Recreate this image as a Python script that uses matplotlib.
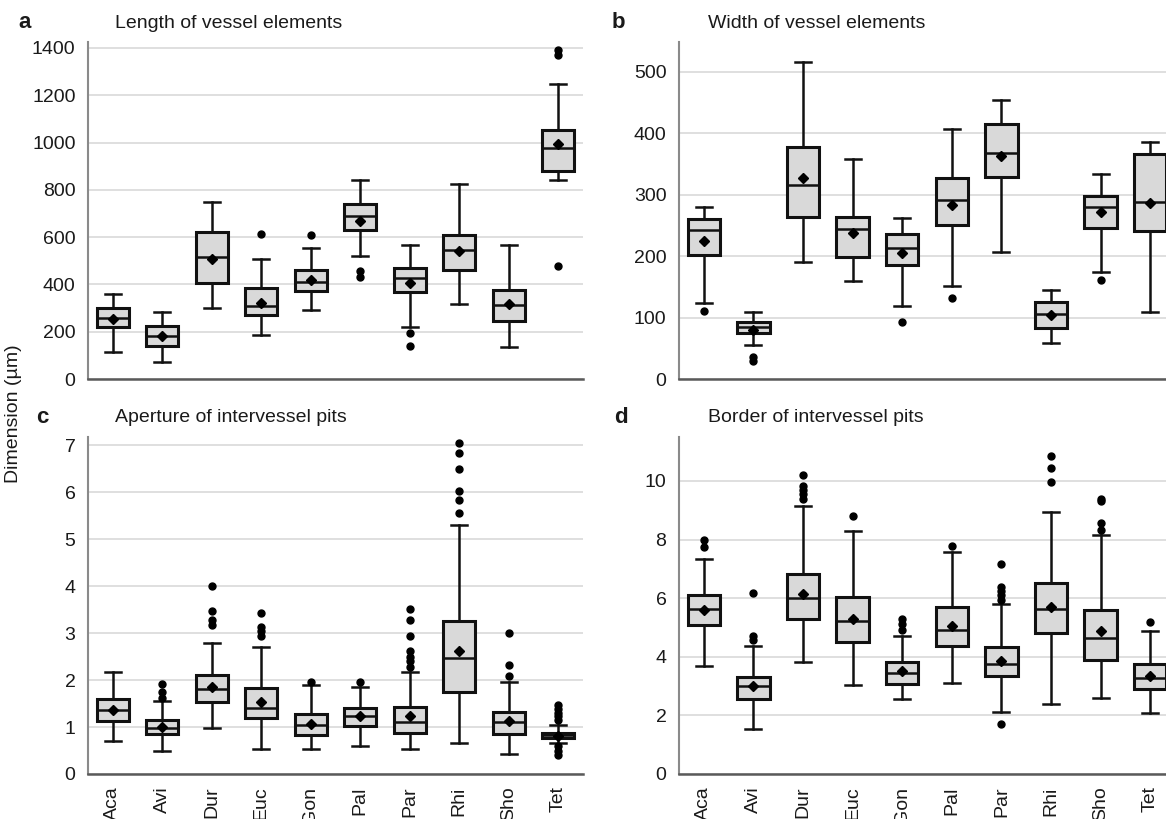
import matplotlib
matplotlib.use("Agg")
import matplotlib.pyplot as plt

plt.rcParams['font.family'] = ['Liberation Sans', 'DejaVu Sans']

labels = ['Aca', 'Avi', 'Dur', 'Euc', 'Gon', 'Pal', 'Par', 'Rhi', 'Sho', 'Tet']

# Panel a: Length of vessel elements
a_lo = [116, 71, 299, 184, 292, 522, 220, 318, 136, 840]
a_q1 = [219, 138, 405, 271, 374, 631, 366, 462, 245, 880]
a_med = [257, 183, 517, 310, 409, 691, 427, 547, 315, 977]
a_q3 = [299, 222, 623, 384, 461, 738, 468, 609, 378, 1051]
a_hi = [360, 283, 747, 509, 552, 842, 568, 826, 568, 1248]
a_mean = [252, 180, 508, 323, 419, 669, 405, 541, 318, 995]
a_fliers = [[], [], [], [613], [607], [456, 432], [193, 140], [], [], [1390, 1371, 478]]

# Panel b: Width of vessel elements
b_lo = [123, 56, 191, 160, 119, 152, 206, 58, 174, 109]
b_q1 = [201, 75, 264, 198, 186, 251, 329, 83, 246, 240]
b_med = [243, 84, 315, 244, 213, 291, 368, 105, 280, 288]
b_q3 = [260, 92, 377, 263, 236, 327, 415, 126, 298, 366]
b_hi = [280, 109, 516, 358, 262, 406, 453, 145, 333, 386]
b_mean = [225, 80, 327, 237, 205, 283, 363, 104, 271, 286]
b_fliers = [[110], [35, 30], [], [], [92], [132], [], [], [161], []]

# Panel c: Aperture of intervessel pits
c_lo = [0.71, 0.48, 0.98, 0.54, 0.53, 0.59, 0.53, 0.66, 0.43, 0.66]
c_q1 = [1.12, 0.86, 1.54, 1.19, 0.84, 1.03, 0.87, 1.74, 0.86, 0.76]
c_med = [1.37, 0.99, 1.82, 1.40, 1.05, 1.23, 1.11, 2.48, 1.10, 0.83]
c_q3 = [1.60, 1.14, 2.11, 1.84, 1.28, 1.40, 1.42, 3.26, 1.33, 0.88]
c_hi = [2.17, 1.56, 2.79, 2.70, 1.89, 1.85, 2.18, 5.30, 1.95, 1.05]
c_mean = [1.37, 1.01, 1.86, 1.53, 1.07, 1.24, 1.24, 2.61, 1.12, 0.82]
c_fliers = [[], [1.92, 1.75, 1.62], [4.0, 3.48, 3.29, 3.18], [3.43, 3.14, 3.04, 2.93],
            [1.97], [1.95], [3.51, 3.29, 2.93, 2.61, 2.50, 2.40, 2.29],
            [7.05, 6.84, 6.50, 6.03, 5.84, 5.56], [3.0, 2.33, 2.09],
            [1.47, 1.39, 1.31, 1.23, 1.14, 0.59, 0.50, 0.41]]

# Panel d: Border of intervessel pits
d_lo = [3.68, 1.55, 3.82, 3.05, 2.55, 3.12, 2.11, 2.38, 2.60, 2.07]
d_q1 = [5.07, 2.57, 5.28, 4.49, 3.08, 4.37, 3.33, 4.81, 3.88, 2.90]
d_med = [5.64, 2.99, 6.02, 5.21, 3.44, 4.93, 3.77, 5.63, 4.65, 3.29]
d_q3 = [6.12, 3.31, 6.84, 6.04, 3.82, 5.70, 4.33, 6.52, 5.61, 3.77]
d_hi = [7.33, 4.36, 9.14, 8.28, 4.70, 7.59, 5.81, 8.94, 8.17, 4.88]
d_mean = [5.61, 3.00, 6.13, 5.30, 3.50, 5.06, 3.85, 5.70, 4.88, 3.33]
d_fliers = [[7.98, 7.75], [6.19, 4.72, 4.56], [10.19, 9.82, 9.68, 9.55, 9.40], [8.82],
            [5.28, 5.11, 4.93], [7.77], [7.18, 6.38, 6.25, 6.10, 5.95, 1.72],
            [10.85, 10.43, 9.97], [9.40, 9.30, 8.55, 8.34], [5.19]]

W, H = 1166, 819
fig = plt.figure(figsize=(W / 100, H / 100), dpi=100)
TXT = '#1a1a1a'


def px_axes(left, right, top, bottom):
    return fig.add_axes([left / W, 1 - bottom / H, (right - left) / W, (bottom - top) / H])


def draw(ax, lo, q1, med, q3, hi, mean, fliers, ymax, yticks, show_x):
    stats = []
    for i in range(len(labels)):
        stats.append(dict(label=labels[i], whislo=lo[i], q1=q1[i], med=med[i],
                          q3=q3[i], whishi=hi[i], mean=mean[i], fliers=fliers[i]))
    ax.bxp(stats, positions=range(len(labels)), widths=0.65, patch_artist=True,
           showmeans=True, showfliers=True,
           boxprops=dict(facecolor='#d9d9d9', edgecolor='#111111', linewidth=2.2),
           medianprops=dict(color='#111111', linewidth=1.8),
           whiskerprops=dict(color='#111111', linewidth=1.8),
           capprops=dict(color='#111111', linewidth=1.8),
           meanprops=dict(marker='D', markerfacecolor='black', markeredgecolor='black',
                          markersize=5.5),
           flierprops=dict(marker='o', markerfacecolor='black', markeredgecolor='black',
                           markersize=5))
    ax.set_xlim(-0.5, len(labels) - 0.5)
    ax.set_ylim(0, ymax)
    ax.set_yticks(yticks)
    ax.set_yticklabels([str(t) for t in yticks])
    ax.yaxis.grid(True, color='#dcdcdc', linewidth=1.3)
    ax.set_axisbelow(True)
    for s in ['top', 'right']:
        ax.spines[s].set_visible(False)
    ax.spines['left'].set_color('#8a8a8a')
    ax.spines['left'].set_linewidth(1.5)
    ax.spines['bottom'].set_color('#5a5a5a')
    ax.spines['bottom'].set_linewidth(1.8)
    ax.tick_params(axis='both', length=0, labelsize=14, colors=TXT, pad=9)
    if show_x:
        ax.set_xticks(range(len(labels)))
        ax.set_xticklabels(labels, rotation=90)
    else:
        ax.set_xticks([])


ax_a = px_axes(88, 583, 42, 379)
draw(ax_a, a_lo, a_q1, a_med, a_q3, a_hi, a_mean, a_fliers, 1425,
     [0, 200, 400, 600, 800, 1000, 1200, 1400], False)
ax_b = px_axes(679, 1175, 42, 379)
draw(ax_b, b_lo, b_q1, b_med, b_q3, b_hi, b_mean, b_fliers, 548,
     [0, 100, 200, 300, 400, 500], False)
ax_c = px_axes(88, 583, 437, 774)
draw(ax_c, c_lo, c_q1, c_med, c_q3, c_hi, c_mean, c_fliers, 7.18,
     [0, 1, 2, 3, 4, 5, 6, 7], True)
ax_d = px_axes(679, 1175, 437, 774)
draw(ax_d, d_lo, d_q1, d_med, d_q3, d_hi, d_mean, d_fliers, 11.5,
     [0, 2, 4, 6, 8, 10], True)

# Panel letters and titles
for (lx, ly, letter, tx, title) in [
        (18, 23, 'a', 115, 'Length of vessel elements'),
        (612, 23, 'b', 708, 'Width of vessel elements'),
        (36, 418, 'c', 115, 'Aperture of intervessel pits'),
        (614, 418, 'd', 708, 'Border of intervessel pits')]:
    fig.text(lx / W, 1 - ly / H, letter, fontsize=16, fontweight='bold', color=TXT,
             ha='left', va='center')
    fig.text(tx / W, 1 - ly / H, title, fontsize=14, color=TXT, ha='left', va='center')

fig.text(14 / W, 1 - 414 / H, 'Dimension (µm)', fontsize=14, color=TXT,
         rotation=90, ha='center', va='center')

fig.savefig('out.png', dpi=100)
